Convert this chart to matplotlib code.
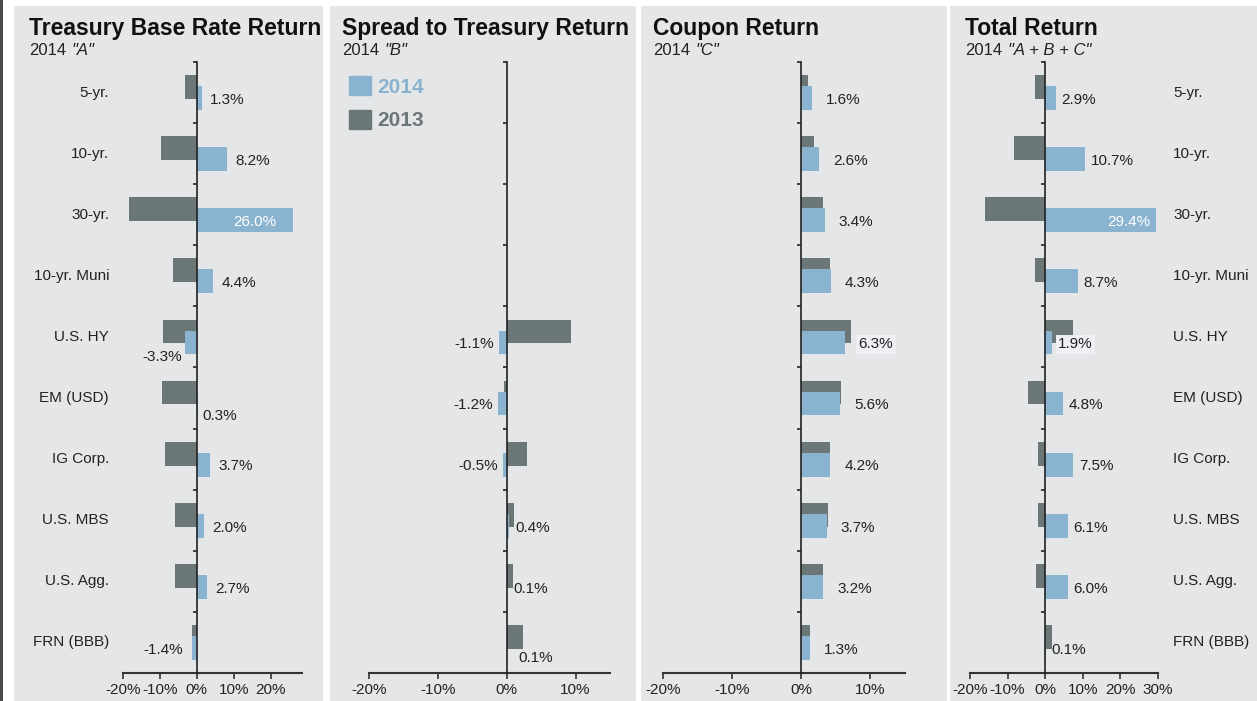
import numpy as np
import matplotlib.pyplot as plt
from matplotlib.patches import Rectangle, Patch

plt.rcParams['font.family'] = ['Liberation Sans', 'DejaVu Sans']

categories = ["5-yr.", "10-yr.", "30-yr.", "10-yr. Muni", "U.S. HY", "EM (USD)",
              "IG Corp.", "U.S. MBS", "U.S. Agg.", "FRN (BBB)"]

# returns in %, 2014 vs 2013, for each component of total return
treasury_2014 = [1.3, 8.2, 26.0, 4.4, -3.3, 0.3, 3.7, 2.0, 2.7, -1.4]
treasury_2013 = [-3.2, -9.7, -18.4, -6.5, -9.2, -9.5, -8.7, -6.0, -6.0, -1.4]
spread_2014 = [np.nan, np.nan, np.nan, np.nan, -1.1, -1.2, -0.5, 0.4, 0.1, 0.1]
spread_2013 = [np.nan, np.nan, np.nan, np.nan, 9.4, -0.4, 2.9, 1.0, 0.9, 2.3]
coupon_2014 = [1.6, 2.6, 3.4, 4.3, 6.3, 5.6, 4.2, 3.7, 3.2, 1.3]
coupon_2013 = [0.9, 1.9, 3.1, 4.2, 7.2, 5.8, 4.2, 3.8, 3.1, 1.3]
total_2014 = [2.9, 10.7, 29.4, 8.7, 1.9, 4.8, 7.5, 6.1, 6.0, 0.1]
total_2013 = [-2.7, -8.4, -15.9, -2.7, 7.3, -4.6, -1.9, -1.9, -2.4, 1.9]

titles = ["Treasury Base Rate Return", "Spread to Treasury Return",
          "Coupon Return", "Total Return"]
subtitles = ['"A"', '"B"', '"C"', '"A + B + C"']
xlims = [(-20, 28.5), (-20, 15), (-20, 15), (-20, 30)]
xticks = [[-20, -10, 0, 10, 20], [-20, -10, 0, 10], [-20, -10, 0, 10],
          [-20, -10, 0, 10, 20, 30]]

BLUE = '#8ab3cf'
DARK = '#6b7676'
BG = '#e4e6e7'
INK = '#222222'

W, H = 1257, 701
fig = plt.figure(figsize=(W / 100, H / 100), dpi=100, facecolor='white')


def px_box(x0, y0, x1, y1):
    return [x0 / W, 1 - y1 / H, (x1 - x0) / W, (y1 - y0) / H]


# panel backgrounds and the dark strip on the left edge
for x0, x1 in [(14, 323), (330, 636), (641, 947), (950, 1257)]:
    l, b, w, h = px_box(x0, 6, x1, H)
    fig.add_artist(Rectangle((l, b), w, h, transform=fig.transFigure,
                             facecolor=BG, edgecolor='none', zorder=-10))
l, b, w, h = px_box(0, 0, 3, H)
fig.add_artist(Rectangle((l, b), w, h, transform=fig.transFigure,
                         facecolor='#4a4a4a', edgecolor='none', zorder=-10))

axes_px = [(123, 302), (369, 610), (663, 905), (970, 1158)]
title_x = [29, 342, 653, 965]
label_pad = [6, 4, 10, 4]
data = [(treasury_2014, treasury_2013), (spread_2014, spread_2013),
        (coupon_2014, coupon_2013), (total_2014, total_2013)]

# labels that do not sit at the plain end of their bar: (dx pts, dy rows, ha, color)
special = {
    (0, 2): (-12, 0.12, 'right', 'white'),
    (0, 4): (-2, 0.32, 'right', INK),
    (0, 5): (3, 0.30, 'left', INK),
    (1, 9): (8, 0.25, 'left', INK),
    (3, 2): (-4, 0.12, 'right', 'white'),
}
highlight = {(2, 4), (3, 4)}

y = np.arange(len(categories))
for k, ((x0, x1), (v14, v13)) in enumerate(zip(axes_px, data)):
    ax = fig.add_axes(px_box(x0, 62, x1, 673))
    ax.set_facecolor('none')
    v14 = np.array(v14, dtype=float)
    v13 = np.array(v13, dtype=float)
    ok = ~np.isnan(v14)

    ax.barh(y[ok] - 0.09, v13[ok], height=0.39, color=DARK, zorder=2)
    ax.barh(y[ok] + 0.09, v14[ok], height=0.39, color=BLUE, zorder=3)

    ax.set_xlim(*xlims[k])
    ax.set_ylim(9.5, -0.5)
    for s in ['top', 'right']:
        ax.spines[s].set_visible(False)
    ax.spines['left'].set_position(('data', 0))
    ax.spines['left'].set_color(INK)
    ax.spines['left'].set_linewidth(1.2)
    ax.spines['left'].set_zorder(4)
    ax.spines['bottom'].set_color('#333333')
    ax.spines['bottom'].set_linewidth(1.5)
    ax.set_yticks(np.arange(-0.5, 10, 1))
    ax.set_yticklabels([])
    ax.tick_params(axis='y', length=3, width=1.2, color=INK)
    ax.set_xticks(xticks[k])
    ax.set_xticklabels([f'{t}%' for t in xticks[k]])
    ax.tick_params(axis='x', length=4, width=1.2, color='#333333', pad=3,
                   labelsize=11, labelcolor=INK)

    for i in y[ok]:
        v = v14[i]
        if (k, i) in special:
            dx, dy, ha, col = special[(k, i)]
        else:
            dx = label_pad[k] if v >= 0 else -label_pad[k]
            dy, ha, col = 0.12, ('left' if v >= 0 else 'right'), INK
        box = None
        if (k, i) in highlight:
            box = dict(boxstyle='square,pad=0.15', facecolor='#eef0f4',
                       edgecolor='none')
        ax.annotate(f'{v:.1f}%', xy=(v, i + dy), xytext=(dx, 0),
                    textcoords='offset points', ha=ha, va='center',
                    fontsize=11, color=col, bbox=box, zorder=5)

    if k == 0:
        for i, c in enumerate(categories):
            ax.annotate(c, xy=(0, i), xycoords=('axes fraction', 'data'),
                        xytext=(-10, 0), textcoords='offset points',
                        ha='right', va='center', fontsize=11, color=INK)
    if k == 3:
        for i, c in enumerate(categories):
            ax.annotate(c, xy=(1, i), xycoords=('axes fraction', 'data'),
                        xytext=(11, 0), textcoords='offset points',
                        ha='left', va='center', fontsize=11, color=INK)
    if k == 1:
        handles = [Patch(color=BLUE, label='2014'), Patch(color=DARK, label='2013')]
        fig.legend(handles=handles, loc='upper left',
                   bbox_to_anchor=(349 / W, 1 - 76 / H), frameon=False,
                   prop=dict(weight='bold', size=15), labelcolor=[BLUE, DARK],
                   handlelength=1.05, handleheight=1.05, handletextpad=0.33,
                   labelspacing=0.62, borderpad=0, borderaxespad=0)

    fig.text(title_x[k] / W, 1 - 35 / H, titles[k], fontsize=16.5,
             weight='bold', va='baseline', color='#111111')
    sub = fig.text(title_x[k] / W, 1 - 58 / H, '2014', fontsize=12,
                   va='bottom', color=INK)
    ax.annotate(subtitles[k], xy=(1, 0), xycoords=sub, xytext=(4, 0),
                textcoords='offset points', va='bottom', fontsize=12,
                style='italic', color=INK, annotation_clip=False)

fig.savefig('out.png', dpi=100, facecolor='white')
